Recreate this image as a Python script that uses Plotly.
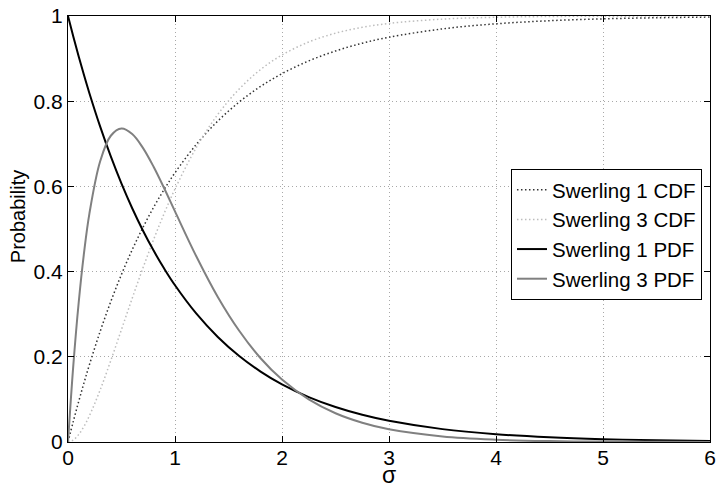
import plotly.graph_objects as go

# sigma values (x axis)
sigma = [0, 0.05, 0.1, 0.15, 0.2, 0.3, 0.4, 0.5, 0.6, 0.7, 0.8, 0.9, 1.0,
         1.2, 1.4, 1.6, 1.8, 2.0, 2.25, 2.5, 2.75, 3.0, 3.5, 4.0, 4.5, 5.0, 5.5, 6.0]

swerling1_cdf = [0, 0.0488, 0.0952, 0.1393, 0.1813, 0.2592, 0.3297, 0.3935, 0.4512,
                 0.5034, 0.5507, 0.5934, 0.6321, 0.6988, 0.7534, 0.7981, 0.8347,
                 0.8647, 0.8946, 0.9179, 0.9361, 0.9502, 0.9698, 0.9817, 0.9889,
                 0.9933, 0.9959, 0.9975]

swerling3_cdf = [0, 0.0047, 0.0176, 0.0370, 0.0616, 0.1219, 0.1913, 0.2642, 0.3374,
                 0.4082, 0.4751, 0.5372, 0.5940, 0.6916, 0.7690, 0.8286, 0.8744,
                 0.9084, 0.9390, 0.9596, 0.9734, 0.9826, 0.9927, 0.9970, 0.9988,
                 0.9995, 0.9998, 0.9999]

swerling1_pdf = [1, 0.9512, 0.9048, 0.8607, 0.8187, 0.7408, 0.6703, 0.6065, 0.5488,
                 0.4966, 0.4493, 0.4066, 0.3679, 0.3012, 0.2466, 0.2019, 0.1653,
                 0.1353, 0.1054, 0.0821, 0.0639, 0.0498, 0.0302, 0.0183, 0.0111,
                 0.0067, 0.0041, 0.0025]

swerling3_pdf = [0, 0.1810, 0.3275, 0.4445, 0.5362, 0.6586, 0.7189, 0.7358, 0.7229,
                 0.6905, 0.6461, 0.5951, 0.5413, 0.4354, 0.3405, 0.2611, 0.1966,
                 0.1465, 0.0999, 0.0674, 0.0451, 0.0297, 0.0128, 0.0054, 0.0022,
                 0.0009, 0.0004, 0.0001]

x_ticks = [0, 1, 2, 3, 4, 5, 6]
y_ticks = [0, 0.2, 0.4, 0.6, 0.8, 1]
y_tick_labels = ["0", "0.2", "0.4", "0.6", "0.8", "1"]

FONT = "Liberation Sans, Arial, Helvetica, sans-serif"
DOTS = "1.5px,2.5px"

fig = go.Figure()
fig.add_trace(go.Scatter(x=sigma, y=swerling1_cdf, mode="lines", name="Swerling 1 CDF",
                         line=dict(color="#333333", width=1.5, dash=DOTS, shape="spline")))
fig.add_trace(go.Scatter(x=sigma, y=swerling3_cdf, mode="lines", name="Swerling 3 CDF",
                         line=dict(color="#bdbdbd", width=1.5, dash=DOTS, shape="spline")))
fig.add_trace(go.Scatter(x=sigma, y=swerling1_pdf, mode="lines", name="Swerling 1 PDF",
                         line=dict(color="#000000", width=2, shape="spline")))
fig.add_trace(go.Scatter(x=sigma, y=swerling3_pdf, mode="lines", name="Swerling 3 PDF",
                         line=dict(color="#808080", width=2, shape="spline")))

axis_common = dict(
    showline=True, linecolor="black", linewidth=1, mirror="ticks",
    ticks="inside", ticklen=6, tickwidth=1, tickcolor="black",
    showgrid=True, gridcolor="#a8a8a8", gridwidth=1, griddash="1px,3px",
    zeroline=False, tickfont=dict(family=FONT, size=21, color="black"),
    automargin=False,
)

fig.update_xaxes(range=[0, 6], tickvals=x_ticks, ticklabelstandoff=-3, **axis_common)
fig.update_yaxes(range=[0, 1], tickvals=y_ticks, ticktext=y_tick_labels, **axis_common)

fig.add_annotation(text="σ", xref="paper", yref="paper", x=0.5, y=-0.1115,
                   xanchor="center", yanchor="bottom", showarrow=False, borderpad=0,
                   font=dict(family=FONT, size=23, color="black"))
fig.add_annotation(text="Probability", xref="paper", yref="paper", x=-0.078, y=0.53,
                   xanchor="center", yanchor="middle", textangle=-90, showarrow=False,
                   font=dict(family=FONT, size=20, color="black"))

fig.update_layout(
    width=716, height=488,
    margin=dict(l=68, r=6, t=16, b=46),
    paper_bgcolor="white", plot_bgcolor="white",
    font=dict(family=FONT, color="black"),
    showlegend=True,
    legend=dict(x=0.9875, y=0.641, xanchor="right", yanchor="top",
                bgcolor="white", bordercolor="black", borderwidth=1,
                font=dict(family=FONT, size=20.5, color="black"),
                itemwidth=30, tracegroupgap=0),
)

fig.write_html("out.html", config={"displayModeBar": False},
               post_script="document.body.style.margin='0';document.body.style.overflow='hidden';")
